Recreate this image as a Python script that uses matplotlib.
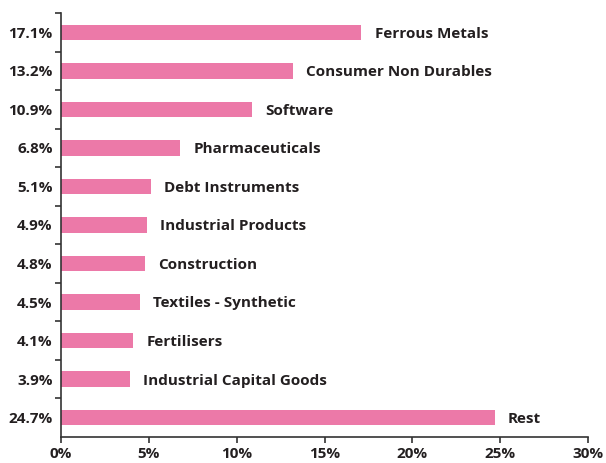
import numpy as np
import matplotlib.pyplot as plt
from matplotlib.ticker import FixedLocator

sectors = ["Ferrous Metals", "Consumer Non Durables", "Software", "Pharmaceuticals",
           "Debt Instruments", "Industrial Products", "Construction",
           "Textiles - Synthetic", "Fertilisers", "Industrial Capital Goods", "Rest"]
weights = [17.1, 13.2, 10.9, 6.8, 5.1, 4.9, 4.8, 4.5, 4.1, 3.9, 24.7]
xticks = [0, 5, 10, 15, 20, 25, 30]

plt.rcParams['font.family'] = ['Open Sans', 'DejaVu Sans']
text_color = '#231f20'

fig = plt.figure(figsize=(6.06, 4.63), dpi=100)
ax = fig.add_axes([0.1007, 0.0562, 0.8696, 0.9157])

y = np.arange(len(sectors))
ax.barh(y, weights, height=0.4, color='#ec79a8')

# sector names to the right of each bar
for yi, w, name in zip(y, weights, sectors):
    ax.annotate(name, (w, yi), xytext=(9.5, -1), textcoords='offset points',
                va='center', ha='left', fontsize=11, fontweight='bold', color=text_color)

ax.set_xlim(0, 30)
ax.set_ylim(len(sectors) - 0.5, -0.5)
ax.set_xticks(xticks)
ax.set_xticklabels(["%d%%" % t for t in xticks])

ax.set_yticks(y)
ax.set_yticklabels(["%.1f%%" % w for w in weights])
ax.yaxis.set_minor_locator(FixedLocator(np.arange(-0.5, len(sectors) - 0.5, 1)))
ax.tick_params(axis='y', which='major', length=0, pad=6)
ax.tick_params(axis='y', which='minor', length=4, width=1.2, color='#333333')
ax.tick_params(axis='x', length=4, width=1.2, color='#333333', pad=3)

for lab in ax.get_xticklabels() + ax.get_yticklabels():
    lab.set_fontsize(11)
    lab.set_fontweight('bold')
    lab.set_color(text_color)

for side in ['top', 'right']:
    ax.spines[side].set_visible(False)
for side in ['left', 'bottom']:
    ax.spines[side].set_color('#333333')
    ax.spines[side].set_linewidth(1.2)

plt.savefig('out.png', dpi=100)
